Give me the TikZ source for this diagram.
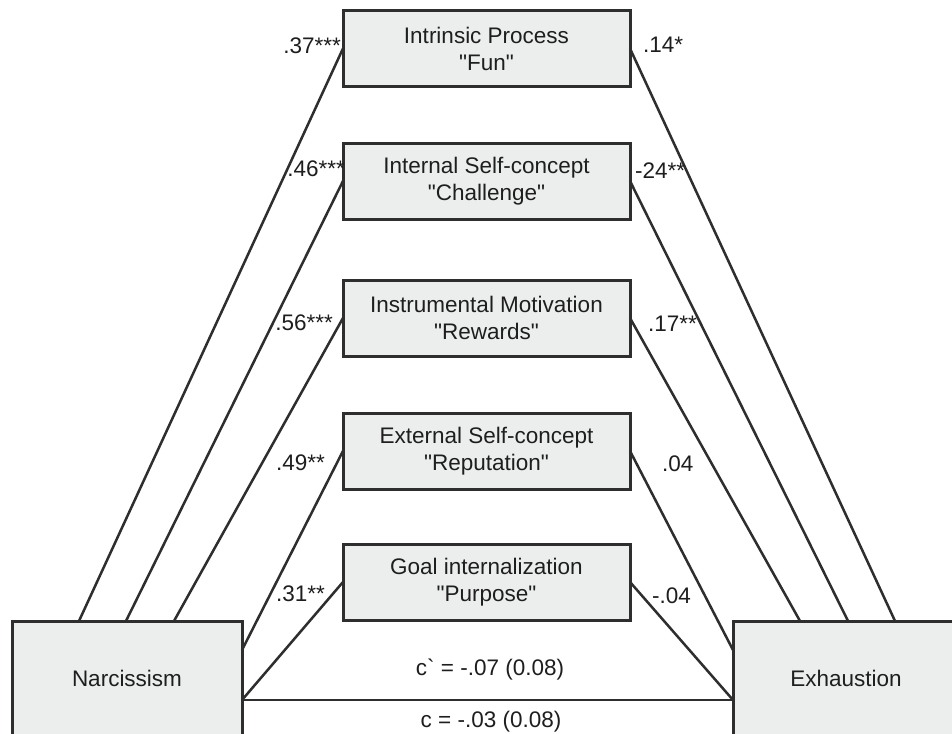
\documentclass[tikz,border=0pt]{standalone}
\usepackage{fontspec}
\newfontfamily\lsans{Liberation Sans}
\usetikzlibrary{calc}
\definecolor{boxfill}{HTML}{ECEEED}
\definecolor{edgecol}{HTML}{2E2E2E}
\definecolor{ink}{HTML}{1E1E1E}
\begin{document}
\begin{tikzpicture}[x=1pt,y=-1pt,
  every node/.style={font=\lsans\fontsize{22.5}{27}\selectfont, text=ink},
  medbox/.style={draw=edgecol, fill=boxfill, line width=3pt, minimum width=287pt, minimum height=76pt, align=center, outer sep=0pt, inner sep=0pt},
  varbox/.style={draw=edgecol, fill=boxfill, line width=3pt, outer sep=0pt, inner sep=0pt},
  conn/.style={draw=edgecol, line width=2.5pt},
  coef/.style={inner sep=0pt, outer sep=0pt}]
\useasboundingbox (0,0) rectangle (952,733);
\fill[white] (0,0) rectangle (952,733);
\clip (0,0) rectangle (952,733);

% mediator boxes
\node[medbox] (m1) at (486.5,48.5) {Intrinsic Process\\"Fun"};
\node[medbox] (m2) at (486.5,181) {Internal Self-concept\\"Challenge"};
\node[medbox] (m3) at (486.5,318) {Instrumental Motivation\\"Rewards"};
\node[medbox] (m4) at (486.5,451) {External Self-concept\\"Reputation"};
\node[medbox] (m5) at (486.5,582) {Goal internalization\\"Purpose"};

% predictor and outcome
\node[varbox, minimum width=230pt, minimum height=114pt] (narc) at (127,678) {Narcissism};
\node[varbox, minimum width=226pt, minimum height=114pt] (exh) at (846,678) {Exhaustion};

% attachment points
\coordinate (n1) at ($(narc.north west)+(67,0)$);
\coordinate (n2) at ($(narc.north west)+(114,0)$);
\coordinate (n3) at ($(narc.north west)+(162,0)$);
\coordinate (n4) at ($(narc.north east)+(0,29)$);
\coordinate (n5) at ($(narc.north east)+(0,79)$);
\coordinate (e1) at ($(exh.north west)+(162,0)$);
\coordinate (e2) at ($(exh.north west)+(115,0)$);
\coordinate (e3) at ($(exh.north west)+(67,0)$);
\coordinate (e4) at ($(exh.north west)+(0,29)$);
\coordinate (e5) at ($(exh.north west)+(0,79)$);

% connectors
\draw[conn] (m1.west) -- (n1);
\draw[conn] (m2.west) -- (n2);
\draw[conn] (m3.west) -- (n3);
\draw[conn] (m4.west) -- (n4);
\draw[conn] (m5.west) -- (n5);
\draw[conn] (m1.east) -- (e1);
\draw[conn] (m2.east) -- (e2);
\draw[conn] (m3.east) -- (e3);
\draw[conn] (m4.east) -- (e4);
\draw[conn] (m5.east) -- (e5);
\draw[conn] (n5) -- (e5);

% coefficients
\node[coef, anchor=east] (l1) at (341,46) {.37***};
\node[coef, anchor=east] (l2) at (345,169) {.46***};
\node[coef, anchor=east] (l3) at (333,323) {.56***};
\node[coef, anchor=east] (l4) at (325,463) {.49**};
\node[coef, anchor=east] (l5) at (325,594) {.31**};
\node[coef, anchor=west] (r1) at (643,45) {.14*};
\node[coef, anchor=west] (r2) at (635,171) {-24**};
\node[coef, anchor=west] (r3) at (648,324) {.17**};
\node[coef, anchor=west] (r4) at (662,464) {.04};
\node[coef, anchor=west] (r5) at (652,596) {-.04};
\node[coef] (cp) at (490,670) {c` = -.07 (0.08)};
\node[coef] (ct) at (491,722) {c = -.03 (0.08)};
\end{tikzpicture}
\end{document}
